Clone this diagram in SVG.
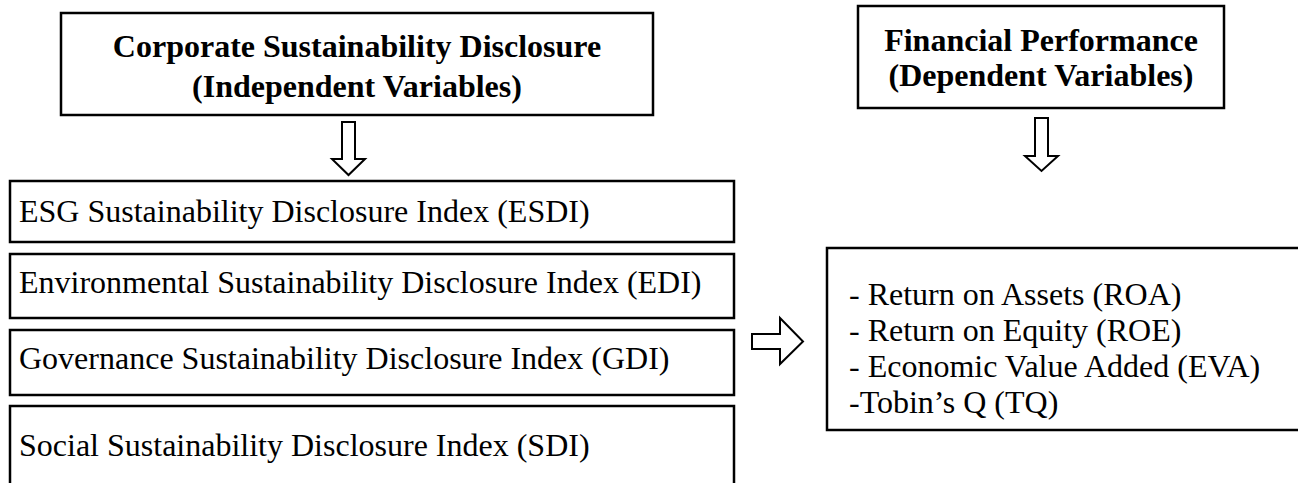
<svg xmlns="http://www.w3.org/2000/svg" width="1298" height="483" viewBox="0 0 1298 483">
<style>
.box{fill:#fff;stroke:#000;stroke-width:2.5}
.arr{fill:#fff;stroke:#000;stroke-width:2;stroke-linejoin:miter}
.t{font-family:"Liberation Serif","Times New Roman",serif;font-size:32px;fill:#000}
.b{font-weight:bold;text-anchor:middle}
</style>
<rect width="1298" height="483" fill="#fff"/>
<g id="csd">
<rect class="box" x="61" y="13" width="592" height="102"/>
<text class="t b" x="357" y="57">Corporate Sustainability Disclosure</text>
<text class="t b" x="357" y="97">(Independent Variables)</text>
</g>
<g id="fp">
<rect class="box" x="858" y="6" width="366" height="102"/>
<text class="t b" x="1041" y="51">Financial Performance</text>
<text class="t b" x="1041" y="86">(Dependent Variables)</text>
</g>
<g id="esdi">
<rect class="box" x="10" y="181" width="724" height="61"/>
<text class="t" x="19" y="222">ESG Sustainability Disclosure Index (ESDI)</text>
</g>
<g id="edi">
<rect class="box" x="10" y="254" width="724" height="64"/>
<text class="t" x="19" y="293">Environmental Sustainability Disclosure Index (EDI)</text>
</g>
<g id="gdi">
<rect class="box" x="10" y="330" width="724" height="65"/>
<text class="t" x="19" y="369">Governance Sustainability Disclosure Index (GDI)</text>
</g>
<g id="sdi">
<rect class="box" x="10" y="406" width="724" height="90"/>
<text class="t" x="19" y="456">Social Sustainability Disclosure Index (SDI)</text>
</g>
<g id="measures">
<rect class="box" x="827" y="248" width="480" height="182"/>
<text class="t" x="849" y="305">- Return on Assets (ROA)</text>
<text class="t" x="849" y="341">- Return on Equity (ROE)</text>
<text class="t" x="849" y="377">- Economic Value Added (EVA)</text>
<text class="t" x="849" y="413">-Tobin’s Q (TQ)</text>
</g>
<g id="connectors">
<path class="arr" d="M342,122 H355 V159 H365 L348.5,175 L332,159 H342 Z"/>
<path class="arr" d="M1035,118 H1048 V156 H1058 L1041.5,171 L1025,156 H1035 Z"/>
<path class="arr" d="M752,334 V349 H780 V364 L803,341.5 L780,318 V334 Z"/>
</g>
</svg>
